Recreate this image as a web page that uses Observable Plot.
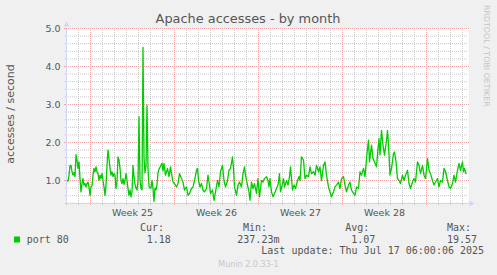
<!DOCTYPE html>
<html><head><meta charset="utf-8">
<script src="https://cdn.jsdelivr.net/npm/d3@7"></script>
<script src="https://cdn.jsdelivr.net/npm/@observablehq/plot@0.6"></script>
<style>
html,body{margin:0;padding:0;background:#f0f0f0;}
svg{display:block;}
</style></head><body><div id="chart"></div>
<script>
// ---- texts ----
const title = "Apache accesses - by month";
const yLabel = "accesses / second";
const seriesName = "port 80";
const weekLabels = ["Week 25", "Week 26", "Week 27", "Week 28"];
const yTicks = [1, 2, 3, 4, 5];
const legendLabels = ["Cur:", "Min:", "Avg:", "Max:"];
const legendValues = ["1.18", "237.23m", "1.07", "19.57"];
const lastUpdate = "Last update: Thu Jul 17 06:00:06 2025";
const footer = "Munin 2.0.33-1";
const watermark = "RRDTOOL / TOBI OETIKER";

// ---- time window (hours after windowStart) ----
const windowStart = "2025-06-14T00:00:00Z";
const windowHours = 804;
const yMin = 0.395, yMax = 5.0;

// ---- series: hours after windowStart, accesses / second ----
const hours = [
  1,3,5,7,9,11,13,15,17,19,21,23,25,27,29,31,33,35,37,39,41,43,45,47,49,51,53,55,57,59,
  61,63,65,67,69,71,73,75,77,79,81,83,85,87,89,91,93,95,97,99,101,103,105,107,109,111,113,115,117,119,
  121,123,125,127,129,131,133,135,137,139,141,143,145,147,149,151,153,155,157,159,161,163,165,167,169,171,173,175,177,179,
  181,183,185,187,189,191,193,195,
  198,202,205,208,210,213,216,220,223,226,230,233,236,240,243,246,250,253,256,260,
  262,264,267,270,273,276,280,283,285,288,292,295,298,302,305,308,312,315,318,322,
  325,328,332,334,336,340,343,346,350,353,356,358,362,365,367,370,373,376,380,383,
  386,390,393,396,400,403,
  405,407,410,413,416,420,423,426,428,432,434,436,440,443,446,448,452,455,458,462,
  465,467,470,474,477,480,484,487,490,494,497,500,504,507,510,514,517,520,524,527,
  530,534,537,540,544,547,550,554,557,560,564,567,570,574,577,580,584,587,590,594,
  597,600,
  602,604,606,610,613,616,620,623,625,627,630,633,636,640,642,644,647,650,654,656,
  659,662,665,668,672,675,678,682,685,688,692,695,698,702,705,708,712,715,718,722,
  725,728,732,735,738,742,745,748,752,755,758,762,765,768,772,775,778,782,785,788,
  792,794,796,799
];
const rate = [
  1.0,0.98,1.14,1.39,1.4,1.23,1.14,1.21,1.1,1.68,1.54,1.32,1.49,1.05,0.7,0.92,1.05,0.88,0.92,0.83,
  0.92,0.96,0.83,0.61,0.83,0.86,1.14,1.32,1.23,1.36,1.23,1.18,1.0,1.14,1.05,1.18,1.0,0.83,0.61,0.88,
  1.4,1.8,1.58,1.32,1.14,1.23,1.1,1.18,1.14,0.79,0.96,1.62,1.54,1.32,1.0,0.92,1.05,0.9,1.0,1.18,
  1.0,0.79,0.61,0.75,0.57,0.7,1.4,1.1,0.9,0.8,0.75,1.0,2.68,1.0,0.8,0.75,4.5,1.6,1.2,1.4,
  2.98,1.3,0.85,0.8,0.8,1.0,0.8,0.45,0.8,0.75,0.9,1.2,1.3,1.35,1.4,1.45,1.25,1.45,
  1.14,1.32,1.1,1.36,1.18,0.96,0.92,0.83,0.92,1.18,1.05,0.96,0.75,0.83,0.61,0.66,0.79,0.83,1.0,1.27,
  1.32,1.0,0.83,0.92,0.75,0.7,0.79,1.14,0.96,0.66,0.75,0.48,0.7,1.0,0.83,1.23,1.4,1.0,0.83,1.0,
  1.27,1.32,1.62,1.32,0.83,0.61,0.88,0.96,0.83,1.18,1.36,1.14,0.88,0.7,0.48,0.96,0.79,0.92,0.66,1.05,
  0.57,1.0,0.96,1.05,1.1,1.0,
  0.83,1.05,0.7,0.57,0.66,0.79,0.88,1.18,0.7,0.92,1.05,0.83,1.0,0.88,1.1,1.36,0.75,0.88,0.79,1.0,
  1.1,1.0,1.62,1.54,1.05,1.14,1.1,1.36,1.18,1.23,1.14,1.4,1.23,1.36,1.0,1.4,1.49,1.14,0.83,0.7,
  0.57,0.7,0.83,0.88,0.96,0.79,1.05,1.1,0.88,0.7,0.88,0.96,0.75,0.66,0.61,0.83,0.79,1.23,1.14,1.32,
  1.1,1.58,
  1.84,2.06,1.49,1.93,1.58,1.49,1.36,1.84,2.1,1.67,2.32,1.93,1.67,2.06,2.32,1.93,1.14,1.32,1.71,1.75,
  1.49,1.05,1.0,0.92,1.14,1.0,1.14,1.27,0.92,0.79,0.96,1.05,0.96,1.49,1.4,1.18,1.4,1.14,1.05,1.58,
  1.27,1.18,1.0,0.88,0.96,1.05,0.83,1.0,0.96,1.32,1.23,1.0,0.83,0.79,0.92,1.14,0.96,1.27,1.45,1.27,
  1.49,1.23,1.32,1.18
];

// ---- derived ----
const HOUR = 3600e3;
const t0 = new Date(windowStart);
const t1 = new Date(+t0 + windowHours * HOUR);
const n = Math.min(hours.length, rate.length);
const data = d3.range(n).map(i => ({t: new Date(+t0 + hours[i] * HOUR), v: rate[i]}));
const mondays = d3.utcMonday.range(t0, t1);
const days = d3.utcDay.range(t0, t1).filter(d => d.getUTCDay() !== 1);
const weekMids = mondays.map(d => new Date(+d + 84 * HOUR)).filter(d => d < t1);
const weekLabelOf = new Map(weekMids.map((d, i) => [+d, weekLabels[i]]));
const yMinor = d3.range(2, 26).map(i => i / 5).filter(v => Math.abs(v - Math.round(v)) > 1e-6);

const GRID = "#c6c6c6", MGRID = "#f2a4a4", AXIS = "#cfd6f8", GREEN = "#00cc00", FONT = "#555";

const arrowUp = {draw(ctx) { ctx.moveTo(0, -3); ctx.lineTo(3, 2); ctx.lineTo(-3, 2); ctx.closePath(); }};

const plot = Plot.plot({
  width: 497, height: 275,
  marginLeft: 66, marginRight: 29, marginTop: 28, marginBottom: 72,
  style: {background: "#f0f0f0", fontFamily: "DejaVu Sans", fontSize: "9.5px", color: FONT, overflow: "visible"},
  x: {type: "utc", domain: [t0, t1], label: null},
  y: {domain: [yMin, yMax], label: null},
  marks: [
    Plot.frame({fill: "white", stroke: "none"}),
    Plot.ruleY(yMinor, {stroke: GRID, strokeDasharray: "1,1"}),
    Plot.ruleX(days, {stroke: GRID, strokeDasharray: "1,1"}),
    Plot.ruleY(yTicks, {stroke: MGRID, strokeDasharray: "1,1", insetRight: -1}),
    Plot.ruleX(mondays, {stroke: MGRID, strokeDasharray: "1,1"}),
    Plot.axisX(days, {tickSize: 2, stroke: GRID, fill: "none", label: null}),
    Plot.axisX(mondays, {tickSize: 2, stroke: MGRID, fill: "none", label: null}),
    Plot.axisX(weekMids, {tickSize: 0, tickPadding: 6, tickFormat: d => weekLabelOf.get(+d), fill: FONT, fontSize: 9.5, label: null}),
    Plot.axisY(yMinor, {tickSize: 1, stroke: GRID, fill: "none", label: null}),
    Plot.axisY(yTicks, {tickSize: 2, stroke: MGRID, tickPadding: 4, tickFormat: d3.format(".1f"), fill: FONT, fontSize: 9.5, label: null}),
    Plot.line(data, {x: "t", y: "v", stroke: GREEN, strokeWidth: 1.3}),
    Plot.ruleX([t0], {y1: yMin, y2: yMax, stroke: AXIS, insetTop: -2, insetBottom: -1}),
    Plot.ruleY([yMin], {x1: t0, x2: t1, stroke: AXIS, insetRight: -1}),
    Plot.dot([t0], {x: d => d, y: () => yMax, symbol: arrowUp, fill: AXIS, stroke: "none", dy: -4}),
    Plot.dot([t1], {x: d => d, y: () => yMin, symbol: arrowUp, fill: AXIS, stroke: "none", rotate: 90, dx: 3})
  ]
});

const svg = d3.select(plot);
const addText = (x, y, s, font, size, fill, anchor = "start", transform = null) => {
  const el = svg.append("text").attr("text-anchor", anchor)
    .attr("font-family", font).attr("font-size", size).attr("fill", fill).text(s);
  if (transform) el.attr("transform", transform); else el.attr("x", x).attr("y", y);
  return el;
};
addText(248, 22.5, title, "DejaVu Sans", 12.9, FONT, "middle");
addText(0, 0, yLabel, "DejaVu Sans", 11, FONT, "middle", "translate(14,114) rotate(-90)");
addText(0, 0, watermark, "DejaVu Sans", 7.9, "#c4c4c4", "start", "translate(484,5) rotate(90)");

const mono = "DejaVu Sans Mono";
svg.append("rect").attr("x", 14).attr("y", 236.5).attr("width", 6).attr("height", 6).attr("fill", GREEN);
addText(26.7, 242.5, seriesName, mono, 10, FONT);
const labelX = [140, 243, 345.3, 447];
const valueX = [146.7, 237.3, 351.3, 447];
legendLabels.forEach((s, i) => {
  addText(labelX[i], 231, s, mono, 10, FONT);
  addText(valueX[i], 242.5, legendValues[i], mono, 10, FONT);
});
addText(261.3, 254.3, lastUpdate, mono, 10, FONT);
addText(218.3, 266.5, footer, "DejaVu Sans", 8, "#c8c8c8");

document.getElementById("chart").append(plot);
</script>
</body></html>
